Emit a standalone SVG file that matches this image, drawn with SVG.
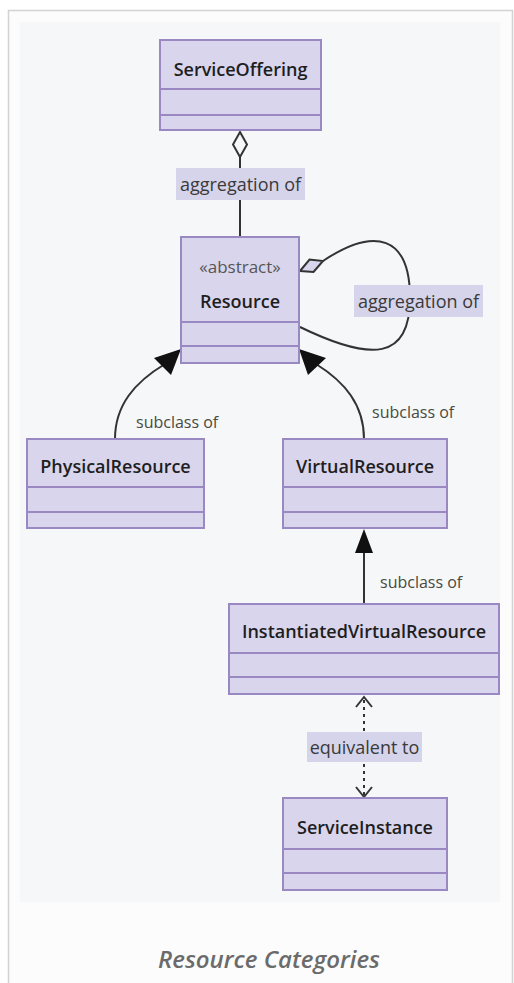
<svg xmlns="http://www.w3.org/2000/svg" width="514" height="983" viewBox="0 0 514 983">
  <style>
    .box { fill: #d9d5ec; stroke: #9a88c2; stroke-width: 2; }
    .div { stroke: #9a88c2; stroke-width: 2; }
    .name { font-family: "Open Sans", "Liberation Sans", sans-serif; font-weight: 600; font-size: 18px; fill: #1e1e1e; text-anchor: middle; }
    .stereo { font-family: "Open Sans", "Liberation Sans", sans-serif; font-size: 17px; fill: #555; text-anchor: middle; }
    .edge { fill: none; stroke: #333; stroke-width: 2; }
    .dotted { fill: none; stroke: #333; stroke-width: 2; stroke-dasharray: 3 4; }
    .lblbg { fill: #d6d4ea; }
    .lbl { font-family: "Open Sans", "Liberation Sans", sans-serif; font-size: 18px; fill: #3a3a3a; text-anchor: middle; }
    .sub { font-family: "Open Sans", "Liberation Sans", sans-serif; font-size: 16px; fill: #4a4a3e; }
    .head { fill: #111; }
    .caption { font-family: "Open Sans", "Liberation Sans", sans-serif; font-style: italic; font-weight: 600; font-size: 24px; fill: #6b6b6b; text-anchor: middle; }
  </style>

  <!-- page frame -->
  <rect x="0" y="0" width="514" height="983" fill="#ffffff"/>
  <rect x="8.5" y="10.5" width="504" height="980" fill="#fcfcfc" stroke="#d2d2d2" stroke-width="1.5"/>
  <rect x="20" y="22" width="480" height="880" fill="#f5f7f8"/>

  <!-- connectors -->
  <g id="connectors">
    <!-- ServiceOffering aggregates Resource -->
    <line class="edge" x1="240" y1="157" x2="240" y2="168"/>
    <line class="edge" x1="240" y1="200" x2="240" y2="237"/>
    <polygon points="240,132 247,144.5 240,157 233,144.5" fill="#f5f7f8" stroke="#333" stroke-width="2"/>
    <rect class="lblbg" x="176" y="168" width="129" height="32"/>
    <text class="lbl" x="240.5" y="191">aggregation of</text>

    <!-- Resource self aggregation -->
    <path class="edge" d="M323,261 C375,226 410,236 410,298 C410,360 372,362 300,327"/>
    <polygon points="300,271 313.5,272 323,261 309.5,259.5" fill="#d9d5ec" stroke="#333" stroke-width="2"/>
    <rect class="lblbg" x="354" y="285" width="129" height="32"/>
    <text class="lbl" x="418.5" y="308">aggregation of</text>

    <!-- PhysicalResource subclass of Resource -->
    <path class="edge" d="M115,439 C115,405 135,382 165,364"/>
    <polygon class="head" points="181,349 171,375 154,358"/>
    <text class="sub" x="136" y="428">subclass of</text>

    <!-- VirtualResource subclass of Resource -->
    <path class="edge" d="M364,439 C364,405 345,382 316,364"/>
    <polygon class="head" points="299,349 326,358 308,375"/>
    <text class="sub" x="372" y="418">subclass of</text>

    <!-- InstantiatedVirtualResource subclass of VirtualResource -->
    <line class="edge" x1="364" y1="604" x2="364" y2="550"/>
    <polygon class="head" points="364,529 373,553 355,553"/>
    <text class="sub" x="380" y="588">subclass of</text>

    <!-- InstantiatedVirtualResource equivalent to ServiceInstance -->
    <line class="dotted" x1="364" y1="700" x2="364" y2="732"/>
    <line class="dotted" x1="364" y1="764" x2="364" y2="795"/>
    <polyline class="edge" points="356,707 364,697 372,707"/>
    <polyline class="edge" points="356,787 364,797 372,787"/>
    <rect class="lblbg" x="307" y="732" width="115" height="30"/>
    <text class="lbl" x="364.5" y="754">equivalent to</text>
  </g>

  <!-- nodes -->
  <g id="ServiceOffering">
    <rect class="box" x="160" y="40" width="161" height="90"/>
    <line class="div" x1="160" y1="89" x2="321" y2="89"/>
    <line class="div" x1="160" y1="115" x2="321" y2="115"/>
    <text class="name" x="240.5" y="76">ServiceOffering</text>
  </g>

  <g id="Resource">
    <rect class="box" x="181" y="237" width="118" height="126"/>
    <line class="div" x1="181" y1="322" x2="299" y2="322"/>
    <line class="div" x1="181" y1="346" x2="299" y2="346"/>
    <text class="stereo" x="240" y="273">«abstract»</text>
    <text class="name" x="240" y="308">Resource</text>
  </g>

  <g id="PhysicalResource">
    <rect class="box" x="27" y="439" width="177" height="89"/>
    <line class="div" x1="27" y1="487" x2="204" y2="487"/>
    <line class="div" x1="27" y1="512" x2="204" y2="512"/>
    <text class="name" x="115.5" y="473">PhysicalResource</text>
  </g>

  <g id="VirtualResource">
    <rect class="box" x="283" y="439" width="164" height="89"/>
    <line class="div" x1="283" y1="487" x2="447" y2="487"/>
    <line class="div" x1="283" y1="512" x2="447" y2="512"/>
    <text class="name" x="365" y="473">VirtualResource</text>
  </g>

  <g id="InstantiatedVirtualResource">
    <rect class="box" x="229" y="604" width="270" height="90"/>
    <line class="div" x1="229" y1="653" x2="499" y2="653"/>
    <line class="div" x1="229" y1="677" x2="499" y2="677"/>
    <text class="name" x="364" y="638">InstantiatedVirtualResource</text>
  </g>

  <g id="ServiceInstance">
    <rect class="box" x="283" y="798" width="164" height="92"/>
    <line class="div" x1="283" y1="849" x2="447" y2="849"/>
    <line class="div" x1="283" y1="873" x2="447" y2="873"/>
    <text class="name" x="365" y="834">ServiceInstance</text>
  </g>

  <text class="caption" x="269" y="968">Resource Categories</text>
</svg>
